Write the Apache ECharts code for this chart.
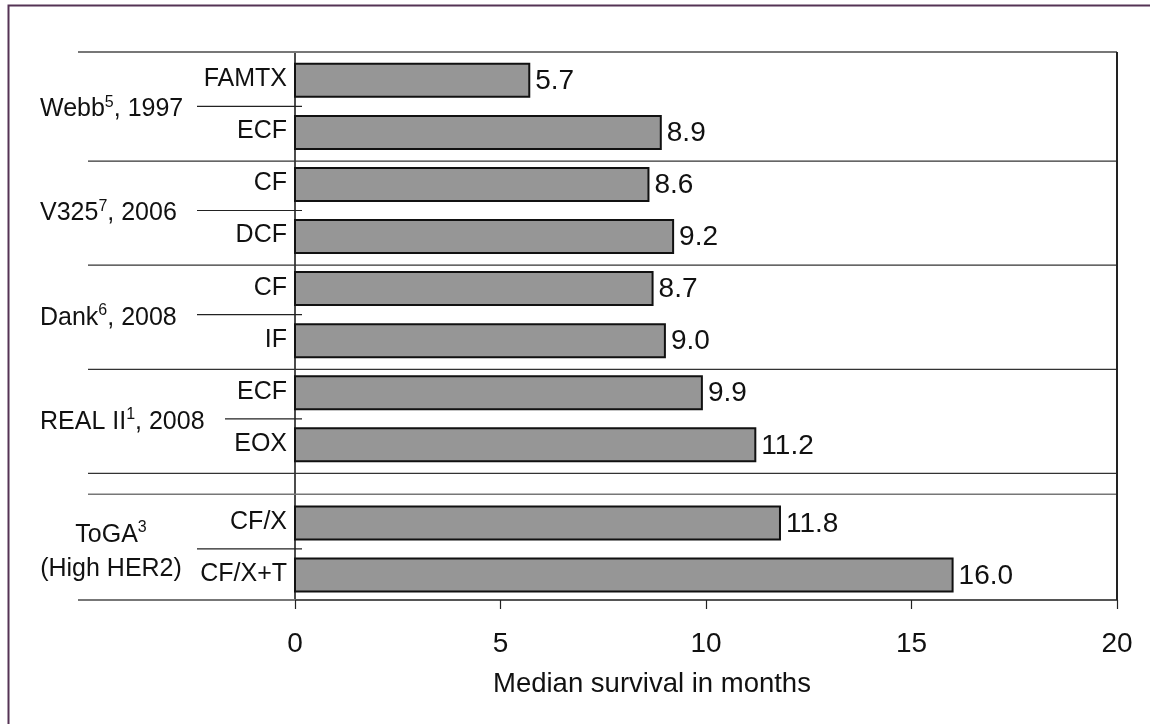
<!DOCTYPE html>
<html><head><meta charset="utf-8">
<script src="https://cdn.jsdelivr.net/npm/echarts@6/dist/echarts.min.js"></script>
<style>html,body{margin:0;padding:0;background:#fff}#c{width:1150px;height:724px}</style>
</head><body><div id="c"></div>
<script>
// ---- data ----
const categories = ['FAMTX', 'ECF', 'CF', 'DCF', 'CF', 'IF', 'ECF', 'EOX', 'CF/X', 'CF/X+T'];
const survival = [5.7, 8.9, 8.6, 9.2, 8.7, 9.0, 9.9, 11.2, 11.8, 16.0];
const groupNames = ['Webb{s|5}, 1997', 'V325{s|7}, 2006', 'Dank{s|6}, 2008', 'REAL II{s|1}, 2008', 'ToGA{s|3}\n(High HER2)'];
const groupSizes = [2, 2, 2, 2, 2];
const groupGapBefore = [0, 0, 0, 0, 0.5];
const xTicks = [0, 5, 10, 15, 20];
const axisTitle = 'Median survival in months';

// ---- layout derived from data ----
const FONT = "'Liberation Sans', Arial, Helvetica, sans-serif";
const rows = [];
const groups = [];
let r = 0;
groupSizes.forEach((n, g) => {
  r += groupGapBefore[g];
  const first = r;
  for (let k = 0; k < n; k++) { rows.push(r); r += 1; }
  groups.push([first, r - 1, groupGapBefore[g]]);
});
const barData = survival.map((v, i) => [v, rows[i]]);
const yMin = -0.544, yMax = rows[rows.length - 1] + 0.48;

const chart = echarts.init(document.getElementById('c'), null, {renderer: 'canvas'});

function renderBar(params, api) {
  const v = api.value(0), row = api.value(1);
  const p0 = api.coord([0, row]);
  const p1 = api.coord([v, row]);
  const h = api.size([0, 0.634])[1];
  return {
    type: 'group',
    children: [
      {type: 'rect', shape: {x: p0[0], y: p0[1] - h / 2, width: p1[0] - p0[0], height: h},
       style: {fill: '#969696', stroke: '#111', lineWidth: 2}},
      {type: 'text', x: p0[0] - 8, y: p0[1] - 1,
       style: {text: categories[params.dataIndex], align: 'right', verticalAlign: 'middle',
               fontSize: 25, fontFamily: FONT, fill: '#111'}},
      {type: 'text', x: p1[0] + 6, y: p1[1] + 1,
       style: {text: v.toFixed(1), align: 'left', verticalAlign: 'middle',
               fontSize: 28, fontFamily: FONT, fill: '#111'}}
    ]
  };
}

function hline(x1, x2, y, color, w) {
  return {type: 'line', shape: {x1: x1, y1: y, x2: x2, y2: y},
          style: {stroke: color, lineWidth: w}};
}

function renderGroup(params, api) {
  const first = api.value(0), last = api.value(1), gap = api.value(2);
  const idx = params.dataIndex;
  const mid = (first + last) / 2;
  const xL = api.coord([0, mid])[0];
  const xR = api.coord([20, mid])[0];
  const ym = api.coord([0, mid])[1];
  const children = [];
  children.push(hline(idx === 3 ? 225 : 197, xL + 7, ym, '#222', 1.2));
  if (idx === 0) children.push(hline(78, xR, api.coord([0, yMin])[1], '#777', 2));
  if (idx < groups.length - 1) children.push(hline(88, xR + 1, api.coord([0, last + 0.55])[1], '#333', 1.3));
  if (gap > 0) children.push(hline(88, xR + 1, api.coord([0, first - 0.55])[1], '#777', 1.5));
  if (idx === groups.length - 1) children.push(hline(78, xL, api.coord([0, yMax])[1], '#777', 2));
  const lines = groupNames[idx].split('\n');
  const multi = lines.length > 1;
  lines.forEach((t, k) => {
    const yy = ym + 3 + (k - (lines.length - 1) / 2) * 34;
    children.push({
      type: 'text', x: multi ? 111 : 40, y: yy,
      style: {text: t, align: multi ? 'center' : 'left', verticalAlign: 'middle',
              fontSize: 25, lineHeight: 30, fontFamily: FONT, fill: '#111',
              rich: {s: {fontSize: 16, lineHeight: 23, verticalAlign: 'top', fontFamily: FONT, fill: '#111'}}}
    });
  });
  return {type: 'group', children: children};
}

chart.setOption({
  animation: false,
  backgroundColor: '#fff',
  grid: {left: 295, right: 33, top: 52, bottom: 124, containLabel: false, outerBoundsMode: 'none'},
  xAxis: {
    type: 'value', min: xTicks[0], max: xTicks[xTicks.length - 1], interval: 5,
    axisLine: {show: true, onZero: false, lineStyle: {color: '#555', width: 2}},
    axisTick: {show: true, length: 9, lineStyle: {color: '#222', width: 1.2}},
    axisLabel: {fontSize: 28, color: '#111', fontFamily: FONT, margin: 30},
    splitLine: {show: false}
  },
  yAxis: {
    type: 'value', inverse: true, min: yMin, max: yMax,
    axisLine: {show: true, onZero: false, lineStyle: {color: '#111', width: 1.5}},
    axisTick: {show: false}, axisLabel: {show: false}, splitLine: {show: false}
  },
  graphic: [
    {type: 'polyline', shape: {points: [[8.5, 724], [8.5, 5.5], [1150, 5.5]]},
     style: {stroke: '#553355', lineWidth: 2, fill: null}, silent: true},
    {type: 'line', shape: {x1: 1117, y1: 52, x2: 1117, y2: 600},
     style: {stroke: '#222', lineWidth: 2}, silent: true, z: 10},
    {type: 'text', left: 493, top: 670,
     style: {text: axisTitle, fontSize: 27.5, fontFamily: FONT, fill: '#111'}}
  ],
  series: [
    {type: 'custom', name: 'groups', data: groups, renderItem: renderGroup, clip: false, silent: true,
     encode: {x: 2, y: 0}},
    {type: 'custom', name: 'survival', data: barData, renderItem: renderBar, clip: false,
     encode: {x: 0, y: 1}}
  ]
});
</script></body></html>
